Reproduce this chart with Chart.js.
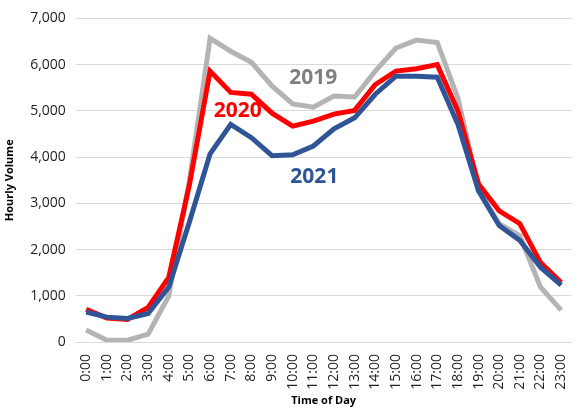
<!DOCTYPE html>
<html>
<head>
<meta charset="utf-8">
<script src="https://cdn.jsdelivr.net/npm/chart.js@4/dist/chart.umd.min.js"></script>
<style>
  body { margin: 0; background: #fff; }
  canvas { display: block; }
</style>
</head>
<body>
<canvas id="volumeChart" width="582" height="408"></canvas>
<script>
const hours = ["0:00", "1:00", "2:00", "3:00", "4:00", "5:00", "6:00", "7:00", "8:00", "9:00", "10:00", "11:00",
    "12:00", "13:00", "14:00", "15:00", "16:00", "17:00", "18:00", "19:00", "20:00", "21:00", "22:00", "23:00"];
const vol2019 = [260, 40, 40, 170, 1000, 3500, 6570, 6290, 6050, 5540, 5150, 5080,
    5320, 5300, 5860, 6360, 6530, 6480, 5280, 3300, 2560, 2300, 1190, 690];
const vol2020 = [710, 520, 490, 750, 1400, 3400, 5860, 5400, 5360, 4950, 4670, 4780,
    4930, 5010, 5570, 5860, 5910, 6000, 5000, 3420, 2840, 2560, 1720, 1290];
const vol2021 = [650, 540, 510, 620, 1190, 2600, 4070, 4710, 4420, 4030, 4050, 4240,
    4610, 4850, 5360, 5750, 5750, 5730, 4710, 3270, 2520, 2200, 1620, 1230];
const yTicks = [0, 1000, 2000, 3000, 4000, 5000, 6000, 7000];

// series labels drawn inside the plot, anchored to (category index, value)
const seriesLabels = [
    { text: "2019", idx: 11.0, val: 5710, color: "#7f7f7f" },
    { text: "2020", idx: 7.34, val: 5000, color: "#ff0000" },
    { text: "2021", idx: 11.05, val: 3575, color: "#2f5597" },
];

const labelPlugin = {
    id: "seriesLabels",
    afterDatasetsDraw(chart) {
        const ctx = chart.ctx;
        const x = chart.scales.x, y = chart.scales.y;
        const step = x.getPixelForValue(1) - x.getPixelForValue(0);
        ctx.save();
        ctx.font = "bold 21px 'Open Sans', sans-serif";
        ctx.textAlign = "center";
        ctx.textBaseline = "middle";
        seriesLabels.forEach(l => {
            ctx.fillStyle = l.color;
            ctx.fillText(l.text, x.getPixelForValue(0) + l.idx * step, y.getPixelForValue(l.val));
        });
        ctx.restore();
    }
};

const ctx = document.getElementById("volumeChart");
new Chart(ctx.getContext("2d"), {
    type: "line",
    data: {
        labels: hours,
        datasets: [
            { label: "2021", data: vol2021, borderColor: "#2f5597" },
            { label: "2020", data: vol2020, borderColor: "#ff0000" },
            { label: "2019", data: vol2019, borderColor: "#b4b4b4" },
        ].map(d => Object.assign(d, { borderWidth: 5, pointRadius: 0, tension: 0, fill: false })),
    },
    options: {
        responsive: false,
        animation: false,
        layout: { padding: { left: 3, right: 2, top: 8, bottom: 0 } },
        plugins: {
            legend: { display: false },
            tooltip: { enabled: false },
        },
        scales: {
            y: {
                min: 0,
                max: 7000,
                afterBuildTicks: axis => { axis.ticks = yTicks.map(v => ({ value: v })); },
                ticks: {
                    color: "#222",
                    font: { family: "'Open Sans', sans-serif", size: 14 },
                    padding: 10,
                    callback: v => v.toLocaleString("en-US"),
                },
                grid: { color: "#d9d9d9", lineWidth: 1, drawTicks: false },
                border: { display: false },
                title: {
                    display: true,
                    text: "Hourly Volume",
                    color: "#000",
                    font: { family: "'Open Sans', sans-serif", size: 11, weight: "bold" },
                    padding: { top: 0, bottom: 4 },
                },
            },
            x: {
                offset: true,
                ticks: {
                    color: "#222",
                    font: { family: "'Open Sans', sans-serif", size: 14 },
                    maxRotation: 90,
                    minRotation: 90,
                    autoSkip: false,
                    padding: 4,
                },
                grid: { display: false },
                border: { color: "#d9d9d9" },
                title: {
                    display: true,
                    text: "Time of Day",
                    color: "#000",
                    font: { family: "'Open Sans', sans-serif", size: 11, weight: "bold" },
                    padding: { top: 0, bottom: 1 },
                },
            },
        },
    },
    plugins: [labelPlugin],
});
</script>
</body>
</html>
